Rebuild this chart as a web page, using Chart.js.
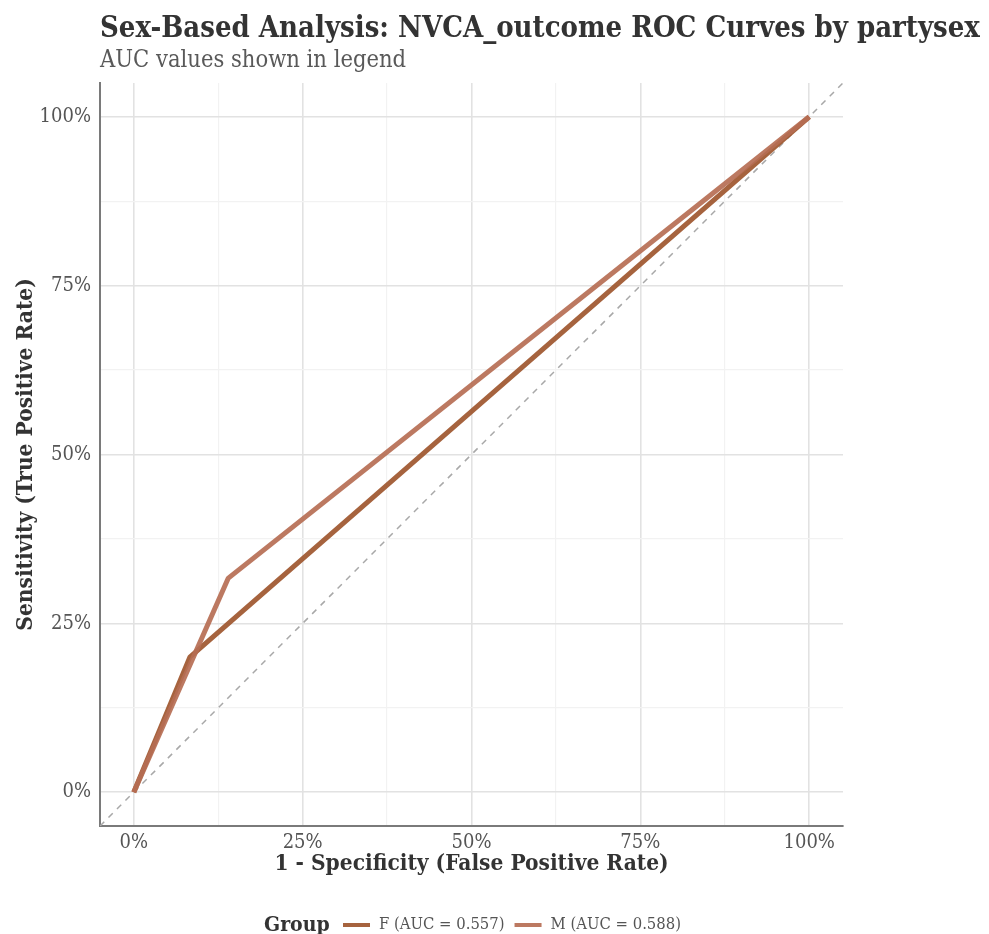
<!DOCTYPE html>
<html>
<head>
<meta charset="utf-8">
<script src="https://cdn.jsdelivr.net/npm/chart.js@4.4.1/dist/chart.umd.min.js"></script>
<style>
  html, body { margin: 0; padding: 0; background: #fff; }
  #wrap { width: 989px; height: 934px; }
</style>
</head>
<body>
<div id="wrap"><canvas id="roc"></canvas></div>
<script>
// ROC curve data
const groups = ['F', 'M'];
const aucValues = [0.557, 0.588];
const fprF = [0, 0.083, 1];
const tprF = [0, 0.200, 1];
const fprM = [0, 0.140, 1];
const tprM = [0, 0.317, 1];
const refLine = [-0.05, 1.05];
const tickValues = [0, 0.125, 0.25, 0.375, 0.5, 0.625, 0.75, 0.875, 1];

const colors = ['rgba(158, 86, 46, 0.92)', 'rgba(182, 110, 84, 0.92)'];
const serif = "'DejaVu Serif Condensed', 'DejaVu Serif', serif";

const toPoints = (xs, ys) => xs.map((x, i) => ({ x: x, y: ys[i] }));

const isMajor = v => Math.abs(v * 4 - Math.round(v * 4)) < 1e-6;

// Title, subtitle and legend drawn on the canvas
const decorations = {
  id: 'decorations',
  afterDraw(chart) {
    const ctx = chart.ctx;
    ctx.save();
    ctx.textBaseline = 'alphabetic';
    ctx.textAlign = 'left';
    ctx.fillStyle = '#333';
    ctx.font = `bold 29px ${serif}`;
    ctx.fillText('Sex-Based Analysis: NVCA_outcome ROC Curves by partysex', 100, 37);
    ctx.fillStyle = '#595959';
    ctx.font = `23.5px ${serif}`;
    ctx.fillText('AUC values shown in legend', 100, 67);

    // legend
    const y = 925;
    ctx.textBaseline = 'middle';
    ctx.fillStyle = '#333';
    ctx.font = `bold 21px ${serif}`;
    ctx.fillText('Group', 264, y + 1);
    let x = 343;
    groups.forEach((g, i) => {
      ctx.fillStyle = colors[i];
      ctx.fillRect(x, y - 2, 27, 4);
      ctx.fillStyle = '#555';
      ctx.font = `16.5px ${serif}`;
      const label = `${g} (AUC = ${aucValues[i].toFixed(3)})`;
      ctx.fillText(label, x + 36, y);
      x += 36 + ctx.measureText(label).width + 10;
    });
    ctx.restore();
  }
};

const axisCommon = {
  type: 'linear',
  min: -0.05,
  max: 1.05,
  afterBuildTicks: scale => {
    scale.ticks = tickValues.map(v => ({ value: v }));
  },
  grid: {
    drawTicks: false,
    color: ctx => (ctx.tick && isMajor(ctx.tick.value)) ? '#e2e2e2' : '#f2f2f2',
    lineWidth: ctx => (ctx.tick && isMajor(ctx.tick.value)) ? 1.6 : 1.2
  },
  border: { display: true, color: '#7a7a7a', width: 2 },
  ticks: {
    color: '#555',
    font: { family: serif, size: 20 },
    callback: v => isMajor(v) ? Math.round(v * 100) + '%' : ''
  }
};

new Chart(document.getElementById('roc'), {
  type: 'line',
  data: {
    datasets: [
      {
        label: 'reference',
        data: toPoints(refLine, refLine),
        borderColor: '#a8a8a8',
        borderWidth: 1.5,
        borderDash: [6, 6],
        pointRadius: 0,
        order: 3
      },
      {
        label: 'F',
        data: toPoints(fprF, tprF),
        borderColor: colors[0],
        borderWidth: 5,
        pointRadius: 0,
        borderJoinStyle: 'round',
        order: 2
      },
      {
        label: 'M',
        data: toPoints(fprM, tprM),
        borderColor: colors[1],
        borderWidth: 5,
        pointRadius: 0,
        borderJoinStyle: 'round',
        order: 1
      }
    ]
  },
  options: {
    responsive: true,
    maintainAspectRatio: false,
    animation: false,
    layout: { padding: { top: 83, right: 146, left: 0, bottom: 56 } },
    plugins: {
      legend: { display: false },
      tooltip: { enabled: false },
      title: { display: false }
    },
    scales: {
      x: Object.assign({}, axisCommon, {
        afterFit: scale => { scale.height = 52; },
        ticks: Object.assign({}, axisCommon.ticks, { padding: 5, maxRotation: 0 }),
        title: {
          display: true,
          text: '1 - Specificity (False Positive Rate)',
          color: '#333',
          font: { family: serif, size: 22.5, weight: 'bold' },
          padding: { top: 0, bottom: 0 }
        }
      }),
      y: Object.assign({}, axisCommon, {
        afterFit: scale => { scale.width = 100; },
        ticks: Object.assign({}, axisCommon.ticks, { padding: 9 }),
        title: {
          display: true,
          text: 'Sensitivity (True Positive Rate)',
          color: '#333',
          font: { family: serif, size: 22.5, weight: 'bold' },
          padding: { top: 13, bottom: 0 }
        }
      })
    }
  },
  plugins: [decorations]
});
</script>
</body>
</html>
